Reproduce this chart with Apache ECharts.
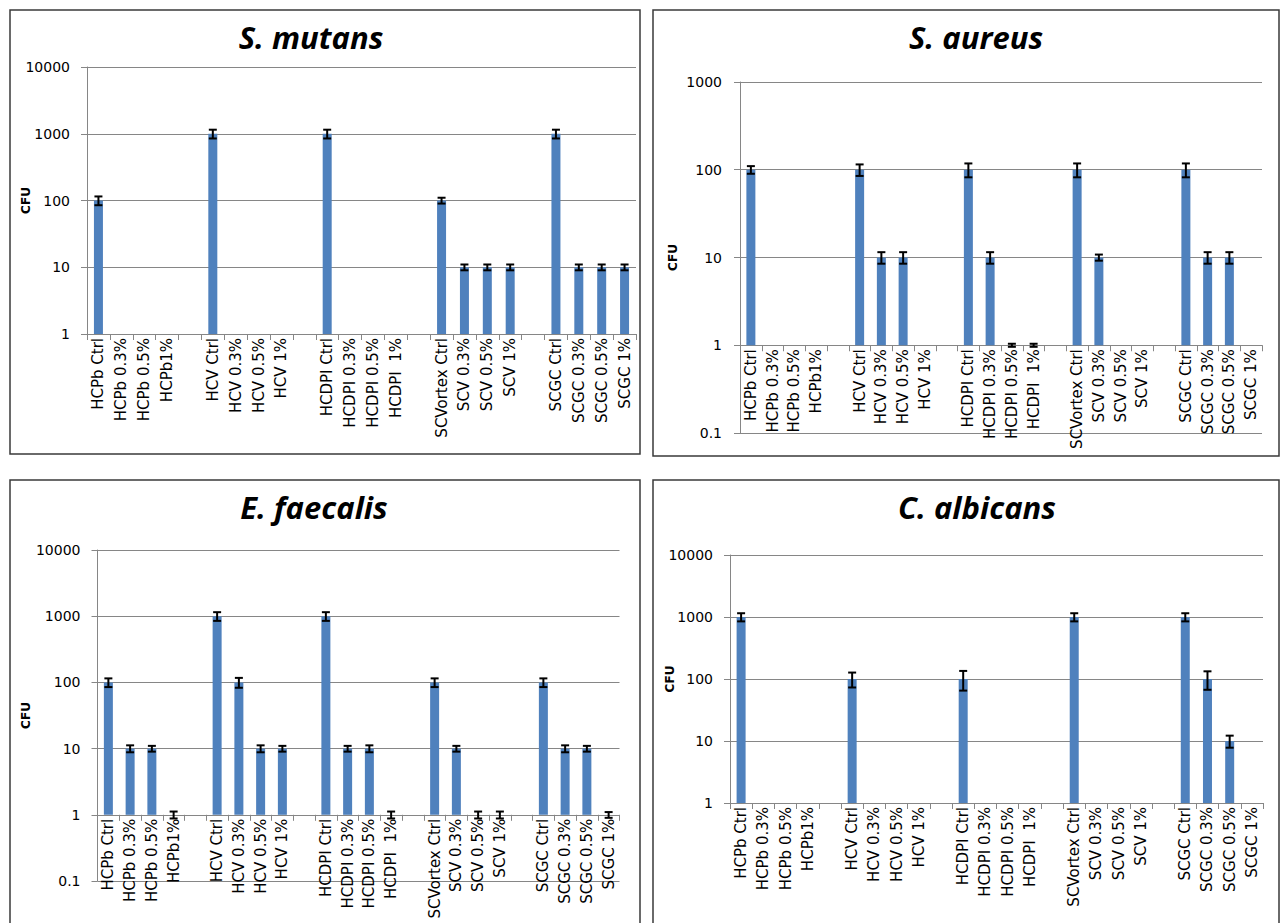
<!DOCTYPE html>
<html><head><meta charset="utf-8">
<script src="https://cdn.jsdelivr.net/npm/echarts@6/dist/echarts.min.js"></script>
<style>html,body{margin:0;padding:0;background:#fff}#c{width:1282px;height:923px}</style>
</head><body><div id="c"></div>
<script>
// ---- data ----
var categories = ["HCPb Ctrl","HCPb 0.3%","HCPb 0.5%","HCPb1%","",
  "HCV Ctrl","HCV 0.3%","HCV 0.5%","HCV 1%","",
  "HCDPI Ctrl","HCDPI 0.3%","HCDPI 0.5%","HCDPI  1%","",
  "SCVortex Ctrl","SCV 0.3%","SCV 0.5%","SCV 1%","",
  "SCGC Ctrl","SCGC 0.3%","SCGC 0.5%","SCGC 1%"];
var titles = ["S. mutans","S. aureus","E. faecalis","C. albicans"];
var yTicksMin = [1, 0.1, 0.1, 1];
var yTicksMax = [10000, 1000, 10000, 10000];
var axisName = "CFU";
var N = null;
var mutansCFU   = [100,N,N,N,N, 1000,N,N,N,N, 1000,N,N,N,N, 100,10,10,10,N, 1000,10,10,10];
var mutansErr   = [15,N,N,N,N, 150,N,N,N,N, 150,N,N,N,N, 10,1,1,1,N, 150,1,1,1];
var aureusCFU   = [100,N,N,N,N, 100,10,10,N,N, 100,10,1,1,N, 100,10,N,N,N, 100,10,10,N];
var aureusErr   = [10,N,N,N,N, 15,1.5,1.5,N,N, 18,1.5,0.04,0.04,N, 18,0.8,N,N,N, 18,1.5,1.5,N];
var faecalisCFU = [100,10,10,1,N, 1000,100,10,10,N, 1000,10,10,1,N, 100,10,1,1,N, 100,10,10,1];
var faecalisErr = [15,1.2,1,0.12,N, 150,17,1.2,1,N, 150,1,1.2,0.12,N, 15,1,0.12,0.12,N, 15,1.2,1,0.1];
var albicansCFU = [1000,N,N,N,N, 100,N,N,N,N, 100,N,N,N,N, 1000,N,N,N,N, 1000,100,10,N];
var albicansErr = [150,N,N,N,N, 27,N,N,N,N, 35,N,N,N,N, 150,N,N,N,N, 150,33,2.2,N];
var panelValues = [mutansCFU, aureusCFU, faecalisCFU, albicansCFU];
var panelErrors = [mutansErr, aureusErr, faecalisErr, albicansErr];

// ---- layout (pixels) ----
var grids = [
  {left: 87,    top: 67,  width: 549, height: 267},
  {left: 740,   top: 82,  width: 522, height: 351},
  {left: 97.5,  top: 550, width: 522, height: 331},
  {left: 730,   top: 555, width: 533, height: 248}
];
var xOffsets = [0, -351/4, -331/5, 0];
var labelMargins = [17, 18, 17, 17];
var nameGaps = [55, 61, 66, 54];
var titlePos = [[311, 37], [976, 37], [314, 507], [977, 507]];
var boxes = [[10,10,630,444],[653,10,626,446],[10,480,630,470],[653,480,626,470]];

var gridColor = '#868686';
var barColor = '#4F81BD';

function fmt(v) { return String(Math.round(v * 10) / 10); }

function renderErr(params, api) {
  var x = api.value(0), lo = api.value(1), hi = api.value(2);
  var a = api.coord([x, lo]), b = api.coord([x, hi]);
  var w = 4;
  var st = {stroke: '#000', lineWidth: 2};
  return {type: 'group', children: [
    {type: 'line', shape: {x1: a[0], y1: a[1], x2: b[0], y2: b[1]}, style: st},
    {type: 'line', shape: {x1: a[0]-w, y1: a[1], x2: a[0]+w, y2: a[1]}, style: st},
    {type: 'line', shape: {x1: b[0]-w, y1: b[1], x2: b[0]+w, y2: b[1]}, style: st}
  ]};
}

var option = {
  animation: false,
  backgroundColor: '#fff',
  grid: [], xAxis: [], yAxis: [], series: [], graphic: []
};

for (var i = 0; i < 4; i++) {
  var g = grids[i];
  option.grid.push({left: g.left, top: g.top, width: g.width, height: g.height,
    containLabel: false, outerBoundsMode: 'none', show: false});
  option.xAxis.push({
    type: 'category', gridIndex: i, data: categories, offset: xOffsets[i],
    boundaryGap: true,
    axisLine: {show: true, lineStyle: {color: gridColor, width: 1}},
    axisTick: {show: true, length: 6, interval: 0, alignWithLabel: false, lineStyle: {color: gridColor}},
    axisLabel: {interval: 0, rotate: 90, margin: 4, color: '#000', fontSize: 15,
      fontFamily: 'DejaVu Sans', hideOverlap: false},
    splitLine: {show: false}
  });
  option.yAxis.push({
    type: 'log', logBase: 10, gridIndex: i, min: yTicksMin[i], max: yTicksMax[i],
    name: axisName, nameLocation: 'middle', nameRotate: 90, nameGap: nameGaps[i],
    nameMoveOverlap: false,
    nameTextStyle: {fontFamily: 'DejaVu Sans', fontWeight: 'bold', fontSize: 12, color: '#000'},
    axisLine: {show: true, lineStyle: {color: gridColor, width: 1}},
    axisTick: {show: true, length: 6, lineStyle: {color: gridColor}},
    minorTick: {show: false}, minorSplitLine: {show: false},
    axisLabel: {formatter: fmt, margin: labelMargins[i], color: '#000', fontSize: 14, fontFamily: 'DejaVu Sans'},
    splitLine: {show: true, lineStyle: {color: gridColor, width: 1}}
  });
  option.series.push({
    type: 'bar', xAxisIndex: i, yAxisIndex: i, data: panelValues[i],
    barWidth: 9, itemStyle: {color: barColor}, silent: true
  });
  var errData = [];
  for (var k = 0; k < categories.length; k++) {
    var v = panelValues[i][k], e = panelErrors[i][k];
    if (v != null && e != null) errData.push([k, v - e, v + e]);
  }
  option.series.push({
    type: 'custom', xAxisIndex: i, yAxisIndex: i, data: errData,
    encode: {x: 0, y: [1, 2]}, renderItem: renderErr, silent: true, z: 5
  });
  option.graphic.push({
    type: 'text', x: titlePos[i][0], y: titlePos[i][1],
    style: {text: titles[i], align: 'center', verticalAlign: 'middle',
      font: 'italic bold 31px "Open Sans"', fill: '#000'}
  });
  var bx = boxes[i];
  option.graphic.push({
    type: 'rect', shape: {x: bx[0], y: bx[1], width: bx[2], height: bx[3]},
    style: {fill: 'none', stroke: '#3a3a3a', lineWidth: 1.5}, silent: true
  });
}

var chart = echarts.init(document.getElementById('c'), null, {renderer: 'svg'});
chart.setOption(option);
</script>
</body></html>
